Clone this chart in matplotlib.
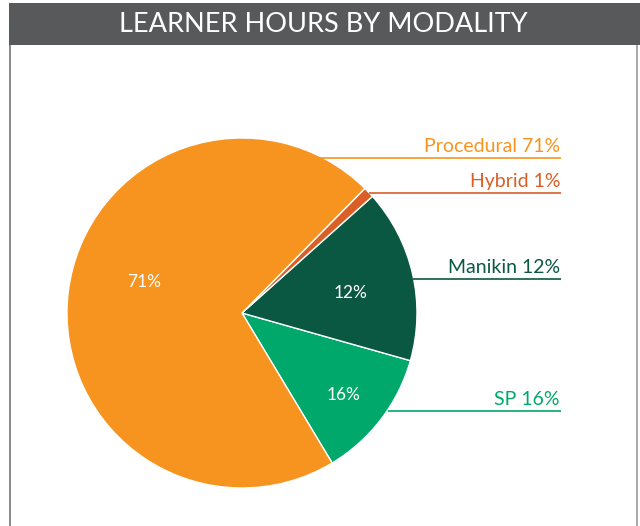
import matplotlib
matplotlib.use("Agg")
import matplotlib.pyplot as plt
from matplotlib.patches import Rectangle

# Data (order drawn counter-clockwise from start angle)
categories = ["SP", "Manikin", "Hybrid", "Procedural"]
slice_values = [12, 16, 1, 71]          # wedge sizes as drawn
label_pcts = ["16%", "12%", "1%", "71%"]  # printed percentages
colors = ["#00A86B", "#0A5842", "#DA5F26", "#F7941F"]
title = "LEARNER HOURS BY MODALITY"

W, H = 640, 526
fig = plt.figure(figsize=(W / 100, H / 100), dpi=100)
ax = fig.add_axes([0, 0, 1, 1])
ax.set_xlim(0, W)
ax.set_ylim(0, H)
ax.axis("off")

def py(y):
    return H - y

font = ["Lato", "DejaVu Sans"]

# frame
ax.plot([9.5, 9.5], [py(45), py(526)], color="#777777", lw=1.2, zorder=1)
ax.plot([637, 637], [py(45), py(526)], color="#999999", lw=1.2, zorder=1)
# title bar
ax.add_patch(Rectangle((9, py(45)), 631, 42, facecolor="#58595B", edgecolor="none", zorder=2))
ax.text(323, py(24.5), title, color="white", fontsize=19.5, ha="center", va="center",
        family=font, zorder=3)

cx, cy, r = 242, py(313), 175
wedges, _ = ax.pie(slice_values, colors=colors, startangle=-59, counterclock=True,
                   center=(cx, cy), radius=r, frame=True,
                   wedgeprops=dict(edgecolor="white", linewidth=1.0))
ax.set_xlim(0, W)
ax.set_ylim(0, H)
ax.set_aspect("equal")
ax.axis("off")

# inside labels
inside_pos = {"SP": (344, 395), "Manikin": (351, 293), "Procedural": (144, 282)}
for cat, pct in zip(categories, label_pcts):
    if cat in inside_pos:
        x, y = inside_pos[cat]
        ax.text(x, py(y), pct, color="white", fontsize=12.5, ha="center", va="center",
                family=font, zorder=5)

# outside labels with underline leaders
outside = {"Procedural": (318, 158), "Hybrid": (369, 193), "Manikin": (413, 279), "SP": (388, 411)}
for cat, pct, col in zip(categories, label_pcts, colors):
    x0, y = outside[cat]
    ax.plot([x0, 561], [py(y), py(y)], color=col, lw=1.2, solid_capstyle="butt")
    ax.text(560, py(y) + 3, f"{cat} {pct}", color=col, fontsize=14, ha="right", va="bottom",
            family=font)

fig.savefig("out.png", dpi=100)
